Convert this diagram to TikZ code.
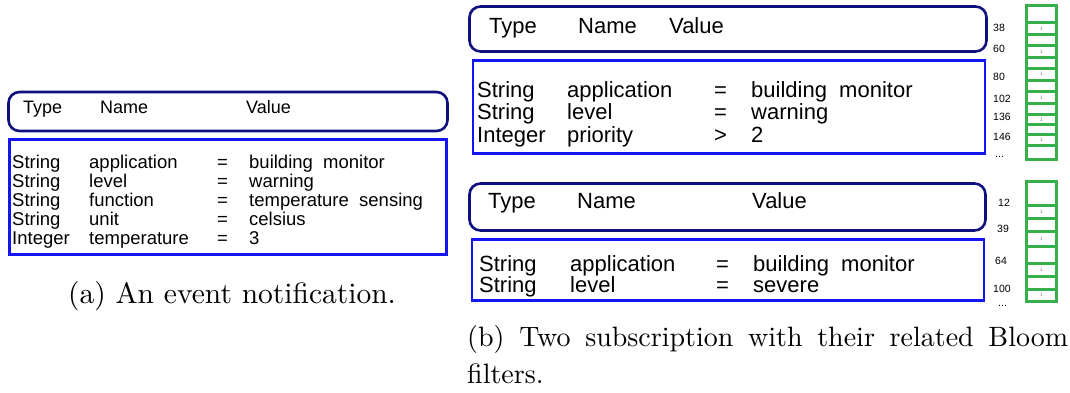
\documentclass[tikz,border=0pt]{standalone}
\usepackage{fontspec}
\usepackage{xcolor}
\usepackage{tikz}
\usetikzlibrary{positioning}
\newfontfamily\figfont{Liberation Sans}
\newfontfamily\capfont{lmroman10-regular.otf}
\definecolor{hdrnavy}   {RGB}{15, 15, 125}
\definecolor{rowblue}   {RGB}{20, 20, 245}
\definecolor{bloomgreen}{RGB}{55, 175, 75}
\tikzset{
  % Header box with the column titles
  hdr/.style={
    rectangle, rounded corners=11pt,
    draw=hdrnavy, line width=2.6pt, inner sep=0pt
  },
  % Box holding the attribute rows
  rows/.style={rectangle, draw=rowblue, line width=2.6pt, inner sep=0pt},
  % Text cells
  acell/.style={anchor=base west, inner sep=0pt, font=\figfont\fontsize{18.5}{20}\selectfont},
  bcell/.style={anchor=base west, inner sep=0pt, font=\figfont\fontsize{22}{24}\selectfont},
  % Hash value beside a filter
  hashnum/.style={anchor=base west, inner sep=0pt, font=\figfont\fontsize{10.5}{12}\selectfont},
  % Filter cells
  bloom/.style={draw=bloomgreen, line width=3pt},
  bitone/.style={inner sep=0pt, font=\figfont\fontsize{5}{6}\selectfont, text=gray},
  % Sub-figure caption
  capt/.style={inner sep=0pt, font=\capfont\fontsize{28}{37}\selectfont},
}
\begin{document}
\begin{tikzpicture}[x=1pt, y=-1pt]
  \useasboundingbox (0,0) rectangle (1070,392);

  % (a) event notification
  \node[hdr, minimum width=439pt, minimum height=39pt] (ahdr) at (228,111.5) {};
  \node[rows, minimum width=437pt, minimum height=115pt] (abody) at (228,197) {};
  \node[acell, font=\figfont\fontsize{18}{20}\selectfont] (atype)  at (23,113)  {Type};
  \node[acell, font=\figfont\fontsize{18}{20}\selectfont] (aname)  at (100,113) {Name};
  \node[acell, font=\figfont\fontsize{18}{20}\selectfont] (avalue) at (246,113) {Value};
  \foreach \t/\n/\o/\v [count=\i] in {String/application/=/building\ \ monitor,
      String/level/=/warning, String/function/=/temperature\ \ sensing,
      String/unit/=/celsius, Integer/temperature/=/3} {
    \node[acell] (at\i) at (12,{149+19*\i})  {\t};
    \node[acell] (an\i) at (89,{149+19*\i})  {\n};
    \node[acell] (ao\i) at (217,{149+19*\i}) {\o};
    \node[acell] (av\i) at (249,{149+19*\i}) {\v};
  }
  \node[capt, anchor=base, font=\capfont\fontsize{29.5}{36}\selectfont] (acap) at (232,303)
    {(a) An event notification.};

  % (b) first subscription
  \node[hdr, minimum width=517pt, minimum height=45pt] (bhdr) at (728,29) {};
  \node[rows, minimum width=512pt, minimum height=93pt] (bbody) at (729,107) {};
  \node[bcell] (btype)  at (489,33) {Type};
  \node[bcell] (bname)  at (578,33) {Name};
  \node[bcell] (bvalue) at (669,33) {Value};
  \foreach \t/\n/\o/\v/\y [count=\i] in {String/application/=/building\ \ monitor/97,
      String/level/=/warning/119, Integer/priority/>/2/142} {
    \node[bcell] (bt\i) at (477,\y) {\t};
    \node[bcell] (bn\i) at (567,\y) {\n};
    \node[bcell] (bo\i) at (714,\y) {\o};
    \node[bcell] (bv\i) at (751,\y) {\v};
  }
  \foreach \h/\y in {38/31, 60/52, 80/80, 102/102, 136/120, 146/140}
    \node[hashnum] (bh\h) at (993,\y) {\h};
  \node[hashnum] (bhdots) at (995,157) {...};
  \foreach \ya/\yb [count=\k] in {5/22.5, 22.5/34.7, 34.7/45, 45/57.7, 57.7/68,
      68/80, 80/91.7, 91.7/103, 103/114, 114/124.7, 124.7/134.5, 134.5/145.3, 145.3/159} {
    \draw[bloom] (1026.5,\ya) rectangle (1056.5,\yb);
    \ifodd\k\else \node[bitone] (bbit\k) at (1041.5,{(\ya+\yb)/2}) {1}; \fi
  }

  % (b) second subscription
  \node[hdr, minimum width=516pt, minimum height=47pt] (chdr) at (727.5,207) {};
  \node[rows, minimum width=512pt, minimum height=61pt] (cbody) at (728,270) {};
  \node[bcell] (ctype)  at (488,208) {Type};
  \node[bcell] (cname)  at (577,208) {Name};
  \node[bcell] (cvalue) at (752,208) {Value};
  \foreach \t/\n/\o/\v/\y [count=\i] in {String/application/=/building\ \ monitor/271,
      String/level/=/severe/292} {
    \node[bcell] (ct\i) at (479,\y) {\t};
    \node[bcell] (cn\i) at (570,\y) {\n};
    \node[bcell] (co\i) at (716,\y) {\o};
    \node[bcell] (cv\i) at (753,\y) {\v};
  }
  \foreach \h/\y/\x in {12/206/998, 39/232/997, 64/264/995, 100/292/993}
    \node[hashnum] (ch\h) at (\x,\y) {\h};
  \node[hashnum] (chdots) at (998,306) {...};
  \foreach \ya/\yb [count=\k] in {181/205, 205/218, 218/231, 231/246, 246/263,
      263/276, 276/289, 289/301} {
    \draw[bloom] (1026.5,\ya) rectangle (1056.5,\yb);
    \ifodd\k\else \node[bitone] (cbit\k) at (1041.5,{(\ya+\yb)/2}) {1}; \fi
  }

  \node[capt, anchor=north west, align=left] (bcap) at (467,325)
    {\makebox[601pt][s]{(b) Two subscription with their related Bloom}\\filters.};
\end{tikzpicture}
\end{document}
